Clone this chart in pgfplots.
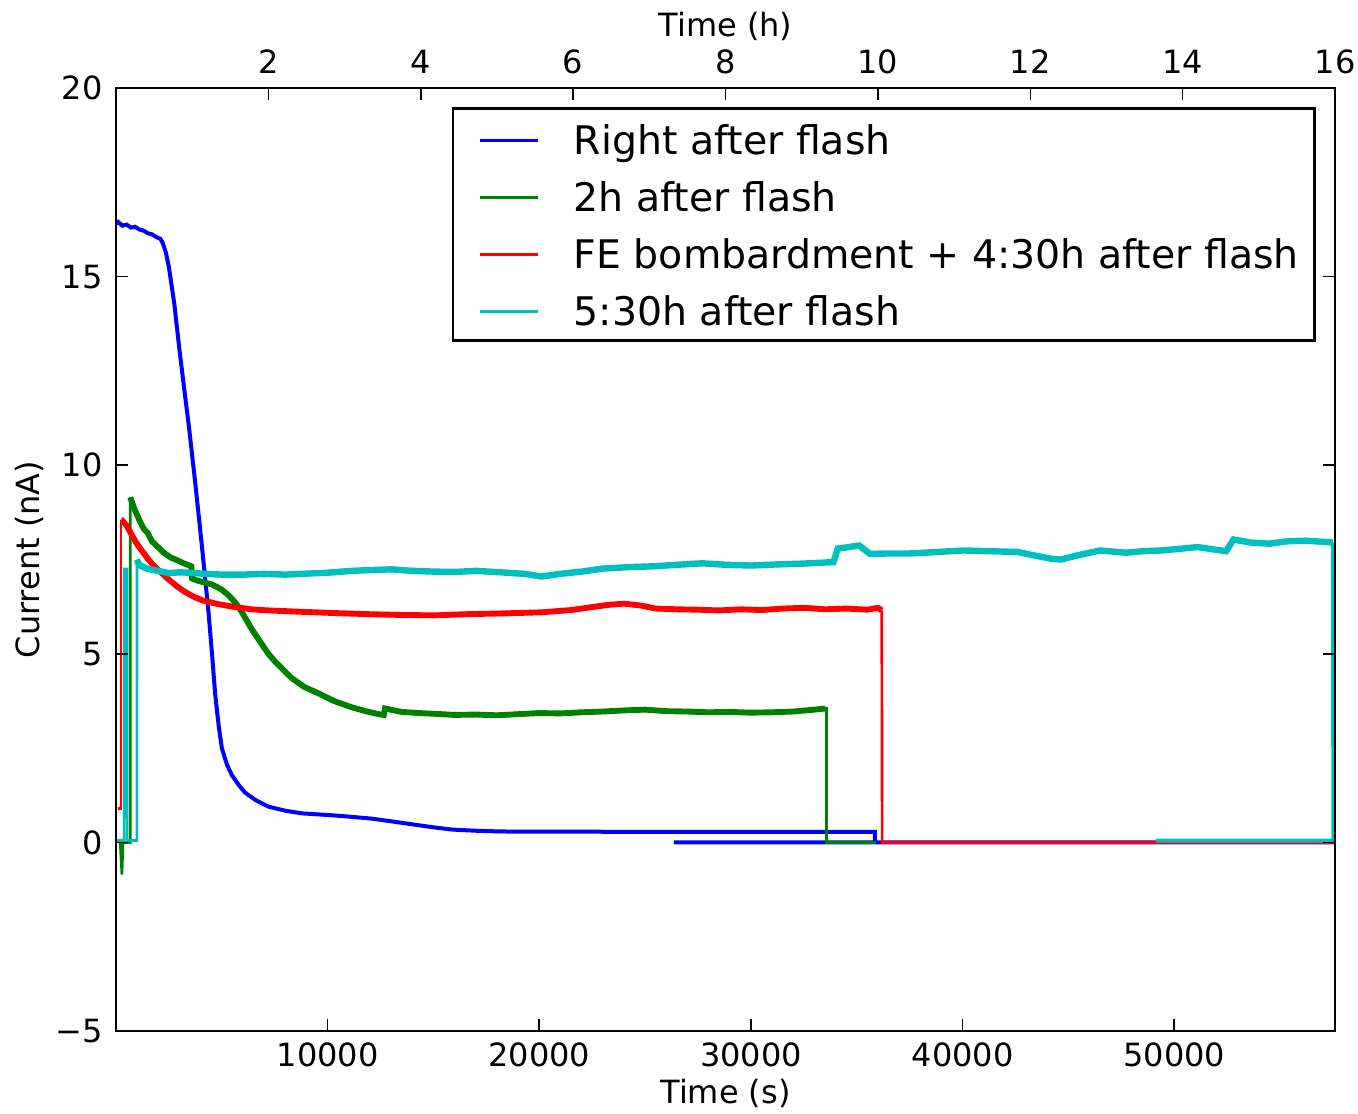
\documentclass[border=0pt]{standalone}
\usepackage{pgfplots}
\pgfplotsset{compat=1.18}
\usepackage{fontspec}
\setmainfont{DejaVu Sans}
\definecolor{mplgreen}{rgb}{0,0.5,0}
\definecolor{mplcyan}{rgb}{0,0.75,0.75}
\begin{document}
\begin{tikzpicture}
\pgfplotsset{
 common/.style={
  scale only axis, width=457.1pt, height=353.6pt,
  at={(0,0)}, anchor=south west,
  xmin=0, xmax=57600, ymin=-5, ymax=20,
  tick align=inside, major tick length=4.5pt,
  axis line style={line width=1pt, black},
  tick style={black, line width=0.6pt},
  /pgf/number format/assume math mode=true,
  tick label style={font=\fontsize{12}{14}\selectfont},
  label style={font=\fontsize{12}{14}\selectfont},
 }
}
\begin{axis}[common, name=main, axis on top,
 scaled x ticks=false, scaled y ticks=false,
 xtick={10000,20000,30000,40000,50000}, xticklabels={10000,20000,30000,40000,50000},
 xtick pos=left, xticklabel pos=left,
 ytick={-5,0,5,10,15,20}, yticklabels={−5,0,5,10,15,20},
 ytick pos=both, yticklabel pos=left,
 xticklabel style={anchor=center, yshift=-9pt},
 yticklabel style={anchor=east, inner sep=0pt, xshift=-4.9pt},
 xlabel={Time (s)}, ylabel={Current (nA)},
 xlabel style={at={(axis description cs:0.5,-0.0667)}, anchor=center},
 ylabel style={at={(axis description cs:-0.0706,0.5)}, anchor=center},
 legend cell align=left,
 legend style={at={(axis description cs:0.9844,0.9799)}, anchor=north east,
   draw=black, line width=1pt, fill=white,
   font=\fontsize{14.78}{17}\selectfont,
   inner xsep=6pt, inner ysep=4.5pt, row sep=7.25pt, column sep=0pt,
   cells={anchor=base west},
   nodes={inner sep=0pt, text height=13pt, text depth=1.1pt}},
 legend image code/.code={\draw[#1] (0pt,5.3pt) -- (21.75pt,5.3pt); \path[draw=none] (-4.1pt,0pt) -- (35.25pt,0pt);},
]
% Right after flash
\addplot[blue, line width=1.5pt, forget plot] coordinates {
(0,16.4) (100,16.45) (300,16.35) (500,16.38) (700,16.3) (900,16.32) (1100,16.25) (1300,16.22)
(1500,16.15) (1700,16.12) (1900,16.05) (2100,16.0) (2200,15.9) (2350,15.65) (2500,15.25)
(2750,14.3) (3000,13.05) (3250,11.9) (3450,11.0) (3750,9.5) (4060,7.85) (4380,6.05) (4550,4.9)
(4690,3.9) (4850,3.1) (5000,2.5) (5250,2.05) (5480,1.78) (5800,1.52) (6100,1.32) (6600,1.12)
(7200,0.95) (8000,0.84) (8800,0.77) (10200,0.72) (11100,0.68) (12100,0.63) (13000,0.56)
(14000,0.48) (15000,0.4) (15900,0.34) (17000,0.31) (18200,0.29) (25000,0.28) (35850,0.28)
(35850,0) (26360,0) (57600,0)};
% 2h after flash
\addplot[mplgreen, line width=1pt, forget plot] coordinates {
(0,0.05) (200,0.0) (280,-0.85) (330,0) (676,0) (676,9.15)};
\addplot[mplgreen, line width=2.2pt, forget plot] coordinates {
(676,9.15) (800,8.95) (900,8.8) (1100,8.55) (1300,8.32) (1500,8.2) (1700,7.98) (2000,7.82)
(2300,7.66) (2600,7.55) (2900,7.48) (3200,7.4) (3560,7.32) (3590,7.0) (3800,6.95) (4100,6.9)
(4535,6.84) (5000,6.7) (5324,6.55) (5650,6.35) (5952,6.1) (6450,5.62) (6897,5.25) (7200,5.0)
(7510,4.8) (8000,4.52) (8314,4.35) (8900,4.12) (9575,3.95) (10300,3.75) (11148,3.58)
(11800,3.48) (12409,3.4) (12650,3.38) (12707,3.55) (13500,3.46) (14300,3.43) (15068,3.41)
(16000,3.38) (17000,3.39) (18000,3.37) (19000,3.4) (20000,3.43) (21000,3.42) (22000,3.45)
(23000,3.47) (24000,3.5) (25000,3.52) (26000,3.48) (27000,3.47) (28000,3.45) (29000,3.46)
(30000,3.44) (31000,3.45) (32000,3.47) (33000,3.52) (33500,3.55)};
\addplot[mplgreen, line width=1pt, forget plot] coordinates {
(33500,3.55) (33560,3.55) (33560,0) (35900,0)};
% FE bombardment
\addplot[red, line width=1pt, forget plot] coordinates {
(100,0.9) (236,0.9) (236,8.55)};
\addplot[red, line width=2.2pt, forget plot] coordinates {
(236,8.55) (283,8.54) (500,8.4) (700,8.2) (897,8.0) (1100,7.82) (1300,7.68) (1500,7.52)
(1700,7.39) (2000,7.22) (2489,6.97) (2900,6.78) (3260,6.64) (3650,6.52) (4062,6.42)
(4800,6.32) (5621,6.24) (6400,6.18) (7213,6.15) (8500,6.12) (10345,6.08) (12000,6.05)
(13500,6.03) (15068,6.02) (16500,6.05) (18200,6.07) (20100,6.1) (21500,6.16) (22500,6.24)
(23300,6.3) (24000,6.33) (24800,6.28) (25500,6.2) (26500,6.18) (27500,6.17) (28500,6.15)
(29500,6.18) (30500,6.16) (31500,6.2) (32500,6.22) (33500,6.18) (34500,6.2) (35500,6.17)
(36000,6.22) (36180,6.15)};
\addplot[red, line width=1pt, forget plot] coordinates {
(36180,6.15) (36200,0) (57600,0)};
% 5:30h after flash
\addplot[mplcyan, line width=1pt, forget plot] coordinates {
(0,0.05) (385,0.05) (390,7.25) (520,7.25) (525,0.05) (985,0.05) (990,7.5)};
\addplot[mplcyan, line width=2.4pt, forget plot] coordinates {
(990,7.5) (1100,7.35) (1500,7.25) (2000,7.2) (2489,7.14) (3000,7.16) (3500,7.15) (4200,7.12)
(5000,7.1) (6000,7.1) (7000,7.12) (8000,7.1) (8786,7.12) (10000,7.15) (11148,7.2) (12000,7.22)
(13000,7.24) (14000,7.2) (15000,7.18) (16000,7.17) (17000,7.2) (18200,7.16) (19300,7.12)
(20100,7.05) (21000,7.12) (22000,7.18) (23000,7.26) (24300,7.3) (25400,7.32) (26500,7.36)
(27700,7.4) (28800,7.36) (30000,7.34) (31200,7.37) (32400,7.39) (33500,7.42) (33900,7.43)
(34100,7.79) (35120,7.87) (35620,7.65) (36500,7.66) (37500,7.66) (38800,7.7) (40050,7.74)
(41300,7.72) (42600,7.7) (43460,7.6) (44200,7.52) (44640,7.5) (45500,7.62) (46510,7.74)
(47700,7.68) (48500,7.72) (49390,7.74) (50200,7.78) (51100,7.83) (52450,7.72) (52800,8.03)
(53600,7.95) (54500,7.92) (55300,7.98) (56190,8.0) (57000,7.97) (57500,7.95)};
\addplot[mplcyan, line width=1.5pt, forget plot] coordinates {
(57500,7.95) (57520,0.05) (49130,0.05)};
\addlegendimage{blue, line width=1pt}
\addlegendentry{Right after flash}
\addlegendimage{mplgreen, line width=1pt}
\addlegendentry{2h after flash}
\addlegendimage{red, line width=1pt}
\addlegendentry{FE bombardment + 4:30h after flash}
\addlegendimage{mplcyan, line width=1pt}
\addlegendentry{5:30h after flash}
\end{axis}
\begin{axis}[common, xmin=0, xmax=16, axis x line*=top, axis y line=none,
 xtick={2,4,...,16},
 xticklabel style={anchor=center, yshift=9.75pt},
 xlabel={Time (h)},
 xlabel style={at={(axis description cs:0.5,1.065)}, anchor=center},
]
\end{axis}
\pgfresetboundingbox
\useasboundingbox (main.south west) ++(-43.5pt,-31.1pt) rectangle ++(509.2pt,417.7pt);
\end{tikzpicture}
\end{document}
